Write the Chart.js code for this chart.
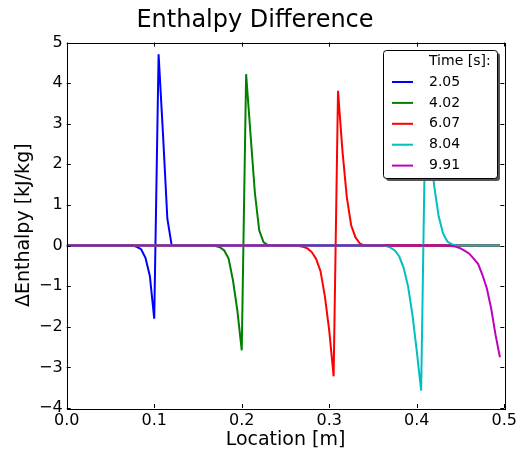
<!DOCTYPE html>
<html>
<head>
<meta charset="utf-8">
<script src="https://cdn.jsdelivr.net/npm/chart.js@4"></script>
<style>
  html, body { margin: 0; padding: 0; background: #fff; }
  #wrap { width: 531px; height: 459px; position: relative; }
</style>
</head>
<body>
<div id="wrap"><canvas id="enthalpyChart"></canvas></div>
<script>
// values (location in m, delta enthalpy in kJ/kg)
const times = ["2.05", "4.02", "6.07", "8.04", "9.91"];
const colors = ["#0000ff", "#008000", "#ff0000", "#00bfbf", "#bf00bf"];

const x205 = [0, 0.075, 0.08, 0.085, 0.09, 0.095, 0.1, 0.105, 0.11, 0.115, 0.12, 0.495];
const y205 = [0, 0, -0.03, -0.09, -0.3, -0.75, -1.8, 4.71, 2.75, 0.66, 0, 0];

const x402 = [0, 0.165, 0.17, 0.175, 0.18, 0.185, 0.19, 0.195, 0.2, 0.205, 0.21, 0.215, 0.22, 0.225, 0.23, 0.495];
const y402 = [0, 0, -0.01, -0.04, -0.12, -0.32, -0.86, -1.6, -2.58, 4.22, 2.75, 1.3, 0.37, 0.08, 0.01, 0];

const x607 = [0, 0.26, 0.265, 0.27, 0.275, 0.28, 0.285, 0.29, 0.295, 0.3, 0.305, 0.31, 0.315, 0.32, 0.325, 0.33, 0.335, 0.34, 0.495];
const y607 = [0, 0, -0.01, -0.03, -0.07, -0.16, -0.33, -0.63, -1.25, -2.1, -3.22, 3.81, 2.35, 1.2, 0.5, 0.2, 0.05, 0, 0];

const x804 = [0, 0.36, 0.365, 0.37, 0.375, 0.38, 0.385, 0.39, 0.395, 0.4, 0.405, 0.41, 0.415, 0.42, 0.425, 0.43, 0.435, 0.44, 0.445, 0.495];
const y804 = [0, 0, -0.01, -0.05, -0.12, -0.27, -0.55, -1.0, -1.7, -2.6, -3.57, 3.45, 2.45, 1.45, 0.72, 0.3, 0.1, 0.03, 0, 0];

const x991 = [0, 0.435, 0.44, 0.445, 0.45, 0.455, 0.46, 0.465, 0.47, 0.475, 0.48, 0.485, 0.49, 0.495];
const y991 = [0, 0, -0.01, -0.03, -0.07, -0.13, -0.2, -0.32, -0.45, -0.72, -1.05, -1.55, -2.2, -2.75];

const xTicks = [0, 0.1, 0.2, 0.3, 0.4, 0.5];
const yTicks = [-4, -3, -2, -1, 0, 1, 2, 3, 4, 5];

const seriesX = [x205, x402, x607, x804, x991];
const seriesY = [y205, y402, y607, y804, y991];

const FONT = "'DejaVu Sans', sans-serif";
Chart.defaults.font.family = FONT;
Chart.defaults.color = "#000";

const pairs = (xs, ys) => xs.map((x, i) => ({ x, y: ys[i] }));
const minus = (v) => (v < 0 ? "\u2212" + Math.abs(v) : String(v));

// frame, inward ticks on all four sides, title and the legend box
const framePlugin = {
  id: "frame",
  afterDatasetsDraw(chart) {
    const { ctx, chartArea: a, scales } = chart;
    ctx.save();
    ctx.strokeStyle = "#000";
    ctx.lineWidth = 1;
    ctx.beginPath();
    xTicks.forEach(v => {
      const px = Math.round(scales.x.getPixelForValue(v)) + 0.5;
      ctx.moveTo(px, a.bottom); ctx.lineTo(px, a.bottom - 4);
      ctx.moveTo(px, a.top); ctx.lineTo(px, a.top + 4);
    });
    yTicks.forEach(v => {
      const py = Math.round(scales.y.getPixelForValue(v)) + 0.5;
      ctx.moveTo(a.left, py); ctx.lineTo(a.left + 4, py);
      ctx.moveTo(a.right, py); ctx.lineTo(a.right - 4, py);
    });
    ctx.stroke();
    ctx.strokeRect(Math.round(a.left) + 0.5, Math.round(a.top) + 0.5,
      Math.round(a.right - a.left), Math.round(a.bottom - a.top));

    // legend
    const lx = 383, ly = 50, lw = 114, lh = 128;
    ctx.fillStyle = "#555";
    ctx.beginPath();
    ctx.roundRect(lx + 3, ly + 3, lw, lh, 3);
    ctx.fill();
    ctx.fillStyle = "#fff";
    ctx.beginPath();
    ctx.roundRect(lx + 0.5, ly + 0.5, lw, lh, 3);
    ctx.fill();
    ctx.stroke();
    ctx.font = "14px " + FONT;
    ctx.fillStyle = "#000";
    ctx.textBaseline = "middle";
    ctx.textAlign = "left";
    ctx.fillText("Time [s]:", 429, 61);
    chart.data.datasets.forEach((ds, i) => {
      const yy = 82 + i * 20.9;
      ctx.strokeStyle = ds.borderColor;
      ctx.lineWidth = 2;
      ctx.beginPath();
      ctx.moveTo(392, yy); ctx.lineTo(413, yy);
      ctx.stroke();
      ctx.fillText(ds.label, 429, yy);
    });

    // title
    ctx.font = "24px " + FONT;
    ctx.textAlign = "center";
    ctx.textBaseline = "alphabetic";
    ctx.fillText("Enthalpy Difference", 255, 27);
    ctx.restore();
  }
};

new Chart(document.getElementById("enthalpyChart"), {
  type: "line",
  data: {
    datasets: times.map((t, i) => ({
      label: t,
      data: pairs(seriesX[i], seriesY[i]),
      borderColor: colors[i],
      backgroundColor: colors[i],
      borderWidth: 2,
      pointRadius: 0,
      tension: 0,
      order: i === 4 ? 0 : times.length - i
    }))
  },
  options: {
    responsive: true,
    maintainAspectRatio: false,
    animation: false,
    events: [],
    layout: { padding: { top: 42.5, right: 26.7, left: 0, bottom: 0 } },
    plugins: { legend: { display: false }, tooltip: { enabled: false }, title: { display: false } },
    scales: {
      x: {
        type: "linear",
        min: 0, max: 0.5,
        afterFit: s => { s.height = 51; },
        afterBuildTicks: s => { s.ticks = xTicks.map(v => ({ value: v })); },
        grid: { display: false, drawTicks: false },
        border: { display: false },
        ticks: { font: { size: 16 }, padding: 3, maxRotation: 0, callback: v => v.toFixed(1) },
        title: { display: true, text: "Location [m]", font: { size: 19 }, padding: { top: 0, bottom: 7.6 } }
      },
      y: {
        min: -4, max: 5,
        afterFit: s => { s.width = 66.7; },
        afterBuildTicks: s => { s.ticks = yTicks.map(v => ({ value: v })); },
        grid: { display: false, drawTicks: false },
        border: { display: false },
        ticks: { font: { size: 16 }, padding: 4, callback: v => minus(v) },
        title: { display: true, text: "\u0394Enthalpy [kJ/kg]", font: { size: 19 }, padding: { top: 12.6, bottom: 0 } }
      }
    }
  },
  plugins: [framePlugin]
});
</script>
</body>
</html>
